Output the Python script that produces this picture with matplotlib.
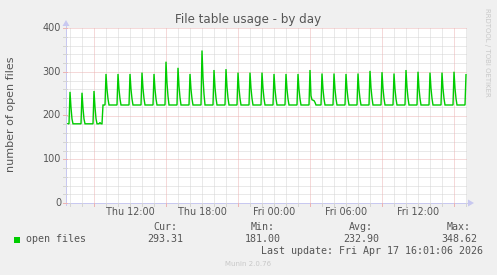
import matplotlib
matplotlib.use("Agg")
import matplotlib.pyplot as plt
import numpy as np

# ---------------- data ----------------
title = "File table usage - by day"
ylabel = "number of open files"
series_name = "open files"

# 5-minute samples starting Thu 06:45 (hours since Thu 00:00)
start_hour = 6.75
n_samples = 400
sample_step_h = 5 / 60

# hourly spike peaks (Thu 07:00 ... Fri 16:00)
peaks = [254, 252, 256, 295, 295, 295, 298, 295, 323, 309, 295, 348.62,
         304, 306, 298, 298, 298, 295, 295, 295, 304, 296, 296, 295, 296,
         302, 299, 296, 304, 300, 298, 298, 300, 293.31]
# values 5 and 10 minutes after each peak
fall1 = [218, 217, 219, 260, 260, 260, 262, 260, 274, 267, 260, 286,
         264, 265, 262, 262, 262, 260, 260, 260, 245, 260, 260, 260, 260,
         263, 262, 260, 264, 262, 262, 262, 262, None]
fall2 = [192, 192, 193, 238, 238, 238, 239, 238, 244, 241, 238, 249,
         240, 240, 239, 239, 239, 238, 238, 238, 236, 238, 238, 238, 238,
         240, 239, 238, 240, 239, 239, 239, 239, None]
base_low = 181.0
base_high = 224.0
base_switch_hour = 9.75          # baseline rises at about Thu 09:45
bump_hour = 9.5                  # small bump before the switch
bump_value = 184.0
shoulder_after_peak = 20         # spike followed by a short shoulder
shoulder_values = [235, 234, 230]

ytick_values = [0, 100, 200, 300, 400]
xtick_hours = [12, 18, 24, 30, 36]
xtick_labels = ["Thu 12:00", "Thu 18:00", "Fri 00:00", "Fri 06:00", "Fri 12:00"]
major_vgrid_hours = [9, 15, 21, 27, 33, 39]

stat_headers = ["Cur:", "Min:", "Avg:", "Max:"]
stat_values = ["293.31", "181.00", "232.90", "348.62"]
last_update = "Last update: Fri Apr 17 16:01:06 2026"
munin_version = "Munin 2.0.76"
rrd_credit = "RRDTOOL / TOBI OETIKER"

# ---------------- build series ----------------
t = start_hour + np.arange(n_samples) * sample_step_h
v = np.where(t < base_switch_hour - 1e-6, base_low, base_high).astype(float)
v[np.argmin(np.abs(t - bump_hour))] = bump_value
for k, p in enumerate(peaks):
    i = int(np.argmin(np.abs(t - (7 + k))))
    v[i] = p
    if fall1[k] is not None and i + 1 < n_samples:
        v[i + 1] = fall1[k]
    if fall2[k] is not None and i + 2 < n_samples:
        v[i + 2] = fall2[k]
    if k == shoulder_after_peak:
        for j, sv in enumerate(shoulder_values):
            if i + 3 + j < n_samples:
                v[i + 3 + j] = sv

# ---------------- figure ----------------
W, H = 497, 275
fig = plt.figure(figsize=(W / 100, H / 100), dpi=100, facecolor="#F0F0F0")
L, R, T, B = 67, 467, 28, 203
ax = fig.add_axes([L / W, 1 - B / H, (R - L) / W, (B - T) / H])
ax.set_facecolor("white")

x0 = start_hour
x1 = start_hour + n_samples * sample_step_h
ax.set_xlim(x0, x1)
ax.set_ylim(0, 400)

px = 0.72  # 1 pixel in points
dot = (0, (1, 1))
minor_col = "#D4D4D4"
major_col = "#ECB4B4"

for yv in range(0, 401, 20):
    if yv % 100 != 0:
        ax.axhline(yv, color=minor_col, lw=px, ls=dot, zorder=1)
for h in range(7, 41):
    if h not in major_vgrid_hours:
        ax.axvline(h, color=minor_col, lw=px, ls=dot, zorder=1)
for yv in ytick_values[1:]:
    ax.axhline(yv, color=major_col, lw=px, ls=dot, zorder=1.5)
for h in major_vgrid_hours:
    ax.axvline(h, color=major_col, lw=px, ls=dot, zorder=1.5)

ax.plot(t, v, color="#00CC00", lw=1.0, zorder=3, solid_joinstyle="miter")

for s in ax.spines.values():
    s.set_visible(False)
ax.set_xticks([])
ax.set_yticks([])

txt_col = "#555555"
axis_col = "#C8C8F0"
def fx(p):
    return p / W
def fy(p):
    return 1 - p / H

fig.add_artist(plt.Line2D([fx(66), fx(469)], [fy(203), fy(203)], color=axis_col, lw=px))
fig.add_artist(plt.Line2D([fx(66), fx(66)], [fy(205), fy(25)], color=axis_col, lw=px))
fig.add_artist(plt.Polygon([[fx(468), fy(199.5)], [fx(468), fy(206.5)], [fx(474), fy(203)]],
                           closed=True, color=axis_col, lw=0))
fig.add_artist(plt.Polygon([[fx(62.5), fy(26)], [fx(69.5), fy(26)], [fx(66), fy(20)]],
                           closed=True, color=axis_col, lw=0))

for h in range(7, 41):
    xp = L + (h - x0) / (x1 - x0) * (R - L)
    c = major_col if h in major_vgrid_hours else minor_col
    fig.add_artist(plt.Line2D([fx(xp), fx(xp)], [fy(203), fy(206)], color=c, lw=px))
for yv in range(0, 401, 20):
    yp = B - yv / 400 * (B - T)
    c = major_col if yv % 100 == 0 else minor_col
    fig.add_artist(plt.Line2D([fx(63), fx(67)], [fy(yp), fy(yp)], color=c, lw=px))

for yv in ytick_values:
    yp = B - yv / 400 * (B - T)
    fig.text(fx(61), fy(yp), str(yv), ha="right", va="center", fontsize=6.9, color=txt_col)
for h, lab in zip(xtick_hours, xtick_labels):
    xp = L + (h - x0) / (x1 - x0) * (R - L)
    fig.text(fx(xp), fy(212), lab, ha="center", va="center", fontsize=6.9, color=txt_col)

fig.text(fx(248), fy(19), title, ha="center", va="center", fontsize=8.6, color=txt_col)
fig.text(fx(11), fy(114), ylabel, ha="center", va="center", rotation=90,
         fontsize=8.0, color=txt_col)
fig.text(fx(487), fy(52), rrd_credit, ha="center", va="center", rotation=270,
         fontsize=5.0, color="#C8C8C8")

mono = "DejaVu Sans Mono"
fig.add_artist(plt.Rectangle((fx(14), fy(243)), 6 / W, 6 / H, color="#00CC00", lw=0))
fig.text(fx(26), fy(239.5), series_name, ha="left", va="center", fontsize=7.2,
         family=mono, color=txt_col)
rights = [183, 281, 379, 477]
for hd, val, r in zip(stat_headers, stat_values, rights):
    fig.text(fx(r - 6), fy(227), hd, ha="right", va="center", fontsize=7.2,
             family=mono, color=txt_col)
    fig.text(fx(r), fy(239.5), val, ha="right", va="center", fontsize=7.2,
             family=mono, color=txt_col)
fig.text(fx(483), fy(251.5), last_update, ha="right", va="center", fontsize=7.2,
         family=mono, color=txt_col)
fig.text(fx(248), fy(264), munin_version, ha="center", va="center", fontsize=5.0,
         color="#C8C8C8")

fig.savefig("out.png", dpi=100, facecolor=fig.get_facecolor())
